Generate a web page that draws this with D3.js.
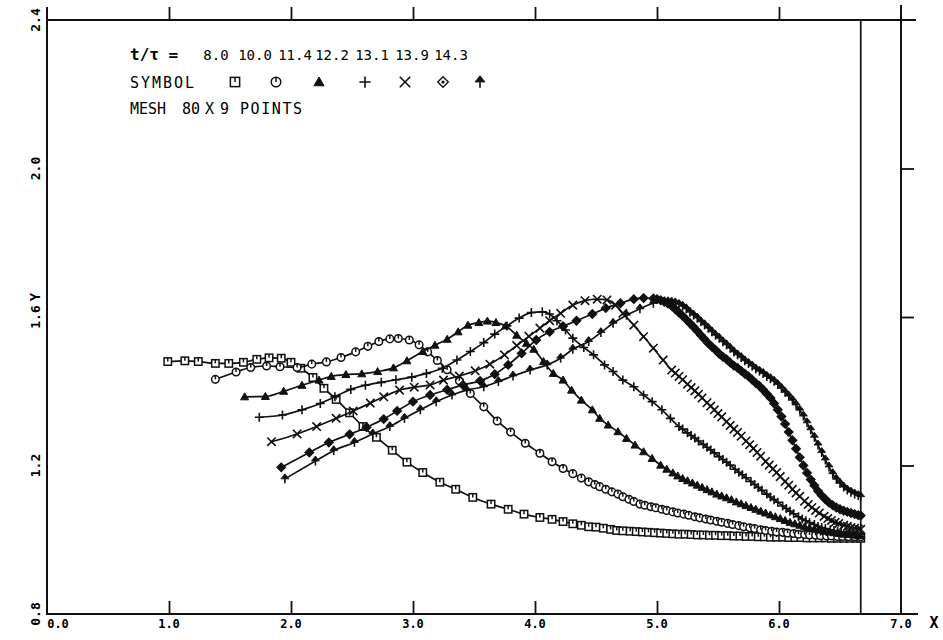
<!DOCTYPE html>
<html><head><meta charset="utf-8">
<script src="https://cdn.jsdelivr.net/npm/d3@7"></script>
<style>body{margin:0;background:#fff}svg{display:block}text{font-family:"DejaVu Sans Mono",monospace;fill:#000}</style>
</head><body>
<script>
// ---- data ----
const xTickValues = [0,1,2,3,4,5,6,7];
const xTickLabels = ["0.0","1.0","2.0","3.0","4.0","5.0","6.0","7.0"];
const yTickValues = [0.8,1.2,1.6,2.0,2.4];
const yTickLabels = ["0.8","1.2","1.6","2.0","2.4"];
const boundaryX = 6.67;
const tLabels = ["8.0","10.0","11.4","12.2","13.1","13.9","14.3"];
const symbolNames = ["square","circle","triangle","plus","cross","diamond","arrow"];

const s080 = [[0.99,1.480],[1.13,1.482],[1.24,1.480],[1.38,1.475],[1.49,1.475],[1.61,1.478],[1.72,1.486],[1.82,1.490],[1.92,1.489],[2.00,1.478],[2.08,1.462],[2.18,1.437],[2.27,1.408],[2.37,1.378],[2.48,1.342],[2.59,1.305],[2.70,1.276],[2.83,1.241],[2.95,1.209],[3.08,1.181],[3.22,1.155],[3.35,1.136],[3.49,1.114],[3.64,1.096],[3.78,1.082],[3.91,1.069],[4.04,1.060],[4.14,1.055],[4.23,1.049],[4.31,1.043],[4.38,1.039],[4.44,1.035],[4.50,1.034],[4.56,1.031],[4.62,1.028],[4.67,1.025],[4.72,1.024],[4.78,1.023],[4.83,1.022],[4.88,1.021],[4.93,1.020],[4.98,1.019],[5.03,1.018],[5.08,1.017],[5.13,1.016],[5.18,1.015],[5.23,1.015],[5.28,1.014],[5.33,1.013],[5.38,1.013],[5.43,1.012],[5.48,1.012],[5.53,1.011],[5.58,1.011],[5.63,1.010],[5.68,1.010],[5.73,1.009],[5.78,1.009],[5.83,1.008],[5.88,1.008],[5.93,1.007],[5.98,1.007],[6.03,1.007],[6.08,1.006],[6.13,1.006],[6.18,1.006],[6.23,1.005],[6.28,1.005],[6.33,1.005],[6.38,1.005],[6.43,1.004],[6.48,1.004],[6.53,1.004],[6.58,1.004],[6.63,1.004],[6.67,1.004]];

const s100 = [[1.38,1.432],[1.55,1.452],[1.67,1.464],[1.80,1.468],[1.91,1.466],[2.05,1.464],[2.17,1.473],[2.29,1.479],[2.41,1.491],[2.53,1.506],[2.63,1.521],[2.72,1.534],[2.81,1.541],[2.88,1.542],[2.97,1.538],[3.05,1.525],[3.12,1.506],[3.20,1.483],[3.28,1.458],[3.38,1.428],[3.47,1.394],[3.58,1.358],[3.69,1.320],[3.80,1.290],[3.92,1.260],[4.04,1.233],[4.14,1.210],[4.23,1.192],[4.31,1.178],[4.38,1.166],[4.44,1.156],[4.49,1.149],[4.53,1.143],[4.58,1.136],[4.63,1.129],[4.68,1.123],[4.72,1.116],[4.77,1.109],[4.81,1.103],[4.86,1.096],[4.90,1.093],[4.95,1.089],[4.99,1.086],[5.04,1.082],[5.08,1.079],[5.13,1.075],[5.17,1.072],[5.22,1.069],[5.26,1.066],[5.31,1.062],[5.35,1.059],[5.40,1.056],[5.44,1.053],[5.49,1.050],[5.53,1.047],[5.58,1.044],[5.62,1.041],[5.67,1.038],[5.71,1.035],[5.76,1.032],[5.80,1.030],[5.85,1.027],[5.89,1.025],[5.94,1.023],[5.98,1.021],[6.03,1.020],[6.07,1.018],[6.12,1.017],[6.16,1.015],[6.21,1.014],[6.25,1.013],[6.30,1.012],[6.34,1.011],[6.39,1.010],[6.43,1.010],[6.48,1.009],[6.52,1.009],[6.57,1.008],[6.62,1.008],[6.67,1.008]];

const s114 = [[1.62,1.385],[1.79,1.386],[1.94,1.400],[2.09,1.416],[2.23,1.430],[2.33,1.440],[2.45,1.445],[2.58,1.447],[2.71,1.453],[2.84,1.463],[2.95,1.482],[3.08,1.507],[3.18,1.524],[3.28,1.540],[3.37,1.560],[3.45,1.578],[3.54,1.585],[3.61,1.589],[3.68,1.585],[3.76,1.576],[3.85,1.551],[3.93,1.529],[3.99,1.513],[4.07,1.480],[4.15,1.448],[4.23,1.430],[4.30,1.403],[4.38,1.376],[4.47,1.350],[4.53,1.327],[4.60,1.309],[4.68,1.291],[4.75,1.273],[4.82,1.255],[4.89,1.237],[4.96,1.219],[5.03,1.201],[5.08,1.190],[5.13,1.180],[5.17,1.172],[5.21,1.165],[5.25,1.159],[5.29,1.153],[5.33,1.147],[5.37,1.141],[5.41,1.135],[5.45,1.129],[5.49,1.123],[5.53,1.118],[5.57,1.113],[5.61,1.108],[5.65,1.102],[5.69,1.097],[5.73,1.092],[5.77,1.087],[5.81,1.082],[5.85,1.077],[5.89,1.072],[5.93,1.067],[5.97,1.062],[6.01,1.057],[6.05,1.052],[6.09,1.047],[6.13,1.043],[6.17,1.039],[6.21,1.035],[6.25,1.032],[6.29,1.029],[6.33,1.026],[6.37,1.023],[6.41,1.021],[6.45,1.019],[6.49,1.017],[6.53,1.015],[6.57,1.014],[6.61,1.013],[6.64,1.012],[6.67,1.011]];

const s122 = [[1.74,1.330],[1.93,1.336],[2.09,1.350],[2.24,1.367],[2.36,1.385],[2.49,1.405],[2.61,1.416],[2.74,1.424],[2.86,1.431],[2.99,1.438],[3.11,1.448],[3.24,1.462],[3.36,1.484],[3.47,1.507],[3.58,1.531],[3.67,1.554],[3.77,1.576],[3.87,1.597],[3.97,1.612],[4.06,1.614],[4.12,1.608],[4.18,1.590],[4.25,1.565],[4.31,1.543],[4.40,1.518],[4.48,1.498],[4.57,1.471],[4.64,1.453],[4.72,1.430],[4.81,1.412],[4.89,1.390],[4.96,1.372],[5.04,1.350],[5.11,1.327],[5.18,1.305],[5.21,1.298],[5.25,1.288],[5.28,1.281],[5.31,1.274],[5.34,1.266],[5.38,1.257],[5.41,1.249],[5.44,1.242],[5.47,1.234],[5.51,1.224],[5.54,1.216],[5.57,1.209],[5.60,1.201],[5.64,1.190],[5.67,1.182],[5.70,1.175],[5.73,1.167],[5.77,1.157],[5.80,1.149],[5.83,1.141],[5.86,1.133],[5.90,1.123],[5.93,1.115],[5.96,1.108],[5.99,1.101],[6.03,1.091],[6.06,1.084],[6.09,1.077],[6.12,1.070],[6.16,1.062],[6.19,1.056],[6.22,1.051],[6.25,1.046],[6.29,1.041],[6.32,1.036],[6.35,1.033],[6.38,1.030],[6.42,1.027],[6.45,1.025],[6.48,1.023],[6.51,1.021],[6.55,1.019],[6.58,1.018],[6.61,1.017],[6.64,1.016],[6.67,1.016]];

const s131 = [[1.84,1.264],[2.05,1.285],[2.21,1.305],[2.37,1.327],[2.51,1.347],[2.65,1.368],[2.76,1.385],[2.89,1.403],[3.01,1.411],[3.14,1.417],[3.25,1.430],[3.38,1.441],[3.51,1.455],[3.63,1.473],[3.75,1.498],[3.85,1.523],[3.95,1.548],[4.04,1.570],[4.12,1.590],[4.21,1.610],[4.31,1.632],[4.41,1.644],[4.51,1.648],[4.59,1.646],[4.66,1.632],[4.72,1.610],[4.81,1.578],[4.89,1.547],[4.97,1.516],[5.05,1.484],[5.12,1.457],[5.15,1.449],[5.18,1.440],[5.21,1.431],[5.25,1.419],[5.28,1.410],[5.31,1.401],[5.34,1.392],[5.37,1.382],[5.41,1.369],[5.44,1.360],[5.47,1.350],[5.50,1.340],[5.53,1.331],[5.57,1.318],[5.60,1.308],[5.63,1.298],[5.66,1.289],[5.69,1.279],[5.73,1.266],[5.76,1.256],[5.79,1.246],[5.82,1.235],[5.85,1.225],[5.89,1.211],[5.92,1.201],[5.95,1.191],[5.98,1.181],[6.01,1.170],[6.05,1.157],[6.08,1.147],[6.11,1.136],[6.14,1.126],[6.17,1.117],[6.21,1.104],[6.24,1.095],[6.27,1.087],[6.30,1.079],[6.33,1.072],[6.37,1.063],[6.40,1.057],[6.43,1.052],[6.46,1.047],[6.49,1.044],[6.53,1.039],[6.56,1.036],[6.59,1.033],[6.62,1.031],[6.65,1.029],[6.67,1.028]];

const s139 = [[1.92,1.195],[2.15,1.235],[2.31,1.262],[2.48,1.284],[2.62,1.303],[2.76,1.325],[2.87,1.347],[3.00,1.372],[3.14,1.390],[3.28,1.404],[3.41,1.417],[3.55,1.428],[3.67,1.446],[3.78,1.471],[3.89,1.502],[4.01,1.538],[4.12,1.560],[4.23,1.575],[4.34,1.590],[4.47,1.608],[4.58,1.624],[4.70,1.637],[4.81,1.648],[4.89,1.651],[4.97,1.650],[5.00,1.648],[5.03,1.645],[5.06,1.641],[5.09,1.636],[5.12,1.630],[5.15,1.621],[5.18,1.612],[5.21,1.603],[5.24,1.593],[5.27,1.583],[5.30,1.573],[5.33,1.562],[5.36,1.551],[5.39,1.540],[5.42,1.529],[5.45,1.520],[5.48,1.511],[5.51,1.501],[5.54,1.493],[5.57,1.486],[5.60,1.477],[5.63,1.469],[5.66,1.463],[5.69,1.455],[5.72,1.447],[5.75,1.440],[5.78,1.431],[5.81,1.422],[5.84,1.414],[5.87,1.404],[5.90,1.393],[5.93,1.382],[5.96,1.367],[5.99,1.350],[6.02,1.332],[6.05,1.312],[6.08,1.290],[6.11,1.268],[6.14,1.245],[6.17,1.222],[6.20,1.200],[6.23,1.180],[6.26,1.162],[6.29,1.146],[6.32,1.131],[6.35,1.119],[6.38,1.109],[6.41,1.100],[6.44,1.093],[6.47,1.087],[6.50,1.082],[6.53,1.078],[6.56,1.075],[6.59,1.072],[6.62,1.069],[6.65,1.066],[6.67,1.065]];

const s143 = [[1.95,1.164],[2.20,1.212],[2.35,1.240],[2.52,1.262],[2.67,1.285],[2.81,1.305],[2.93,1.327],[3.06,1.350],[3.19,1.372],[3.32,1.390],[3.44,1.403],[3.58,1.412],[3.70,1.426],[3.82,1.441],[3.96,1.457],[4.10,1.471],[4.21,1.489],[4.31,1.513],[4.44,1.534],[4.54,1.558],[4.64,1.583],[4.75,1.605],[4.86,1.622],[4.97,1.637],[5.06,1.641],[5.09,1.641],[5.12,1.640],[5.15,1.638],[5.18,1.634],[5.21,1.629],[5.24,1.622],[5.27,1.613],[5.30,1.605],[5.33,1.597],[5.36,1.587],[5.39,1.579],[5.42,1.570],[5.45,1.560],[5.48,1.551],[5.51,1.543],[5.54,1.533],[5.57,1.525],[5.60,1.516],[5.63,1.506],[5.66,1.498],[5.69,1.491],[5.72,1.482],[5.75,1.475],[5.78,1.468],[5.81,1.460],[5.84,1.454],[5.87,1.448],[5.90,1.440],[5.93,1.434],[5.96,1.427],[5.99,1.418],[6.02,1.408],[6.05,1.397],[6.08,1.387],[6.11,1.376],[6.14,1.363],[6.17,1.349],[6.20,1.333],[6.23,1.315],[6.26,1.296],[6.29,1.276],[6.32,1.255],[6.35,1.235],[6.38,1.215],[6.41,1.196],[6.44,1.178],[6.47,1.163],[6.50,1.152],[6.53,1.142],[6.56,1.134],[6.59,1.128],[6.62,1.123],[6.65,1.119],[6.67,1.116]];

const seriesData = [s080, s100, s114, s122, s131, s139, s143];

// ---- drawing ----
const W = 943, H = 640;
const svg = d3.select("body").append("svg").attr("width", W).attr("height", H);
const x = d3.scaleLinear().domain([0, 7]).range([47, 901]);
const y = d3.scaleLinear().domain([0.8, 2.4]).range([614, 20]);

const ink = "#111";
const frame = svg.append("g").attr("stroke", ink).attr("stroke-width", 2).attr("fill", "none");
frame.append("line").attr("x1", x(0)).attr("x2", x(0)).attr("y1", 7).attr("y2", y(0.8) + 1);
frame.append("line").attr("x1", x(0) - 1).attr("x2", 916).attr("y1", y(2.4)).attr("y2", y(2.4));
frame.append("line").attr("x1", x(0) - 1).attr("x2", 918).attr("y1", y(0.8)).attr("y2", y(0.8));
frame.append("line").attr("x1", x(7)).attr("x2", x(7)).attr("y1", 5).attr("y2", y(0.8));
frame.append("line").attr("x1", x(boundaryX)).attr("x2", x(boundaryX)).attr("y1", y(2.4)).attr("y2", y(0.8)).attr("stroke-width", 1.7);

// axes (ticks via d3 axes)
const inner = xTickValues.filter(v => v > 0 && v < 7);
const axB = svg.append("g").attr("transform", `translate(0,${y(0.8)})`)
  .call(d3.axisBottom(x).tickValues(inner).tickSize(-13).tickFormat(""));
const axT = svg.append("g").attr("transform", `translate(0,${y(2.4)})`)
  .call(d3.axisTop(x).tickValues(inner).tickSize(13).tickFormat(""));
const yInner = yTickValues.filter(v => v > 0.8 && v < 2.4);
const axR = svg.append("g").attr("transform", `translate(${x(7)},0)`)
  .call(d3.axisRight(y).tickValues(yInner).tickSize(13).tickFormat(""));
[axB, axT, axR].forEach(a => {
  a.select(".domain").remove();
  a.selectAll(".tick line").attr("stroke", ink).attr("stroke-width", 1.8);
});

// tick labels
svg.append("g").selectAll("text").data(xTickValues).join("text")
  .attr("x", (d, i) => i === 0 ? x(d) + 11 : x(d))
  .attr("y", 628).attr("text-anchor", "middle")
  .attr("font-size", 12).attr("font-weight", "bold")
  .text((d, i) => xTickLabels[i]);
svg.append("g").selectAll("text").data(yTickValues).join("text")
  .attr("transform", d => `translate(40,${y(d)}) rotate(-90)`)
  .attr("text-anchor", "middle")
  .attr("font-size", 13).attr("font-weight", "bold")
  .text((d, i) => yTickLabels[i]);
svg.append("text").attr("x", 934).attr("y", 628).attr("text-anchor", "middle")
  .attr("font-size", 15).attr("font-weight", "bold").text("X");
svg.append("text").attr("transform", `translate(40,297) rotate(-90)`).attr("text-anchor", "middle")
  .attr("font-size", 14).attr("font-weight", "bold").text("Y");

// marker drawing
function marker(g, type, cx, cy, s) {
  const k = s / 8;
  const sw = 1.5;
  if (type === "square") {
    g.append("rect").attr("x", cx - 3.7 * k).attr("y", cy - 3.7 * k).attr("width", 7.4 * k).attr("height", 7.4 * k)
      .attr("fill", "#fff").attr("stroke", ink).attr("stroke-width", sw);
    g.append("line").attr("x1", cx).attr("x2", cx).attr("y1", cy - 3.7 * k).attr("y2", cy).attr("stroke", ink).attr("stroke-width", sw);
  } else if (type === "circle") {
    g.append("circle").attr("cx", cx).attr("cy", cy).attr("r", 3.8 * k)
      .attr("fill", "#fff").attr("stroke", ink).attr("stroke-width", sw);
    g.append("line").attr("x1", cx).attr("x2", cx).attr("y1", cy - 3.8 * k).attr("y2", cy).attr("stroke", ink).attr("stroke-width", sw);
  } else if (type === "triangle") {
    g.append("path").attr("d", `M${cx},${cy - 4 * k}L${cx + 4 * k},${cy + 3 * k}L${cx - 4 * k},${cy + 3 * k}Z`)
      .attr("fill", ink).attr("stroke", ink).attr("stroke-width", 1);
  } else if (type === "plus") {
    g.append("path").attr("d", `M${cx - 4.5 * k},${cy}H${cx + 4.5 * k}M${cx},${cy - 4.5 * k}V${cy + 4.5 * k}`)
      .attr("stroke", ink).attr("stroke-width", 1.6).attr("fill", "none");
  } else if (type === "cross") {
    const a = 4.2 * k;
    g.append("path").attr("d", `M${cx - a},${cy - a}L${cx + a},${cy + a}M${cx - a},${cy + a}L${cx + a},${cy - a}`)
      .attr("stroke", ink).attr("stroke-width", 1.6).attr("fill", "none");
  } else if (type === "diamond") {
    const a = 4.2 * k;
    g.append("path").attr("d", `M${cx},${cy - a}L${cx + a},${cy}L${cx},${cy + a}L${cx - a},${cy}Z`)
      .attr("fill", s > 8 ? "#fff" : ink).attr("stroke", ink).attr("stroke-width", 1.4);
    g.append("circle").attr("cx", cx).attr("cy", cy).attr("r", 1.3 * k).attr("fill", ink);
  } else if (type === "arrow") {
    g.append("path").attr("d", `M${cx},${cy - 4.5 * k}V${cy + 4.5 * k}`).attr("stroke", ink).attr("stroke-width", 1.6);
    g.append("path").attr("d", `M${cx},${cy - 5 * k}L${cx + 4 * k},${cy}L${cx - 4 * k},${cy}Z`).attr("fill", ink).attr("stroke", ink).attr("stroke-width", 0.8);
  }
}

const line = d3.line().x(d => x(d[0])).y(d => y(d[1])).curve(d3.curveMonotoneX);
const plot = svg.append("g");
seriesData.forEach((data, i) => {
  const g = plot.append("g");
  g.append("path").datum(data).attr("d", line).attr("fill", "none").attr("stroke", ink).attr("stroke-width", 1.7);
  const mg = g.append("g");
  data.forEach(d => marker(mg, symbolNames[i], x(d[0]), y(d[1]), 8));
});

// legend
const leg = svg.append("g").attr("font-weight", "bold");
leg.append("text").attr("x", 130).attr("y", 60).attr("font-size", 16).attr("font-family", "DejaVu Sans").text("t/τ =");
const valueX = [216, 255, 295, 332, 372, 412, 451];
const symX = [235, 276, 319, 365, 405, 443, 480];
tLabels.forEach((t, i) => {
  leg.append("text").attr("x", valueX[i]).attr("y", 60).attr("text-anchor", "middle")
    .attr("font-size", 14).attr("font-weight", "normal").text(t);
  marker(leg, symbolNames[i], symX[i], 82, 10);
});
leg.append("text").attr("x", 130).attr("y", 88).attr("font-size", 15).attr("font-weight", "normal")
  .attr("textLength", 64).attr("lengthAdjust", "spacing").text("SYMBOL");
const mesh = ["MESH", "80", "X", "9", "POINTS"], meshX = [130, 182, 205, 220, 240], meshW = [36, 18, 9, 8, 62];
mesh.forEach((m, i) => leg.append("text").attr("x", meshX[i]).attr("y", 114).attr("font-size", 15).attr("font-weight", "normal")
  .attr("textLength", meshW[i]).attr("lengthAdjust", "spacing").text(m));
</script>
</body></html>
